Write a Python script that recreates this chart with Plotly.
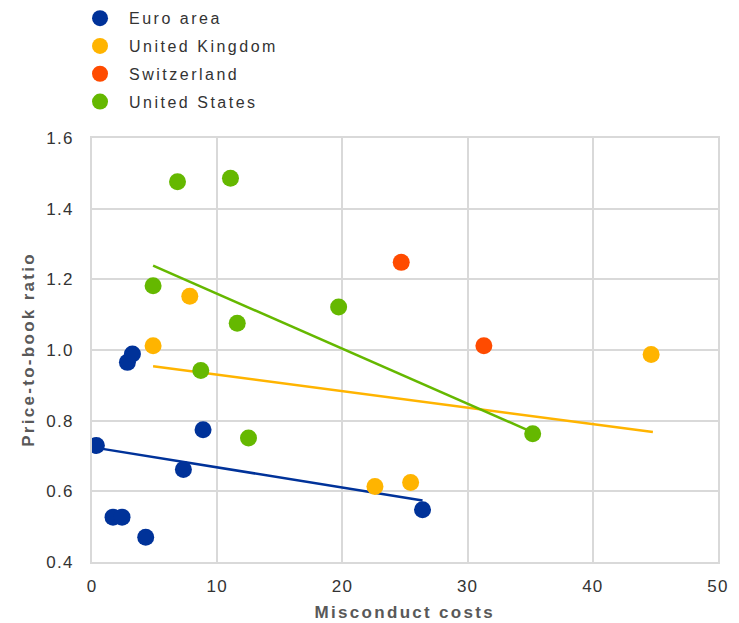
import plotly.graph_objects as go

# Scatter data (misconduct costs, price-to-book ratio)
euro_x = [0.35, 1.68, 2.4, 4.29, 7.3, 8.87, 2.83, 3.23, 26.4]
euro_y = [0.730, 0.527, 0.527, 0.470, 0.662, 0.774, 0.965, 0.989, 0.548]

uk_x = [4.88, 7.81, 22.6, 25.45, 44.66]
uk_y = [1.012, 1.152, 0.614, 0.625, 0.987]

ch_x = [24.7, 31.3]
ch_y = [1.248, 1.012]

us_x = [6.83, 11.06, 4.88, 11.6, 19.7, 8.69, 12.5, 35.2]
us_y = [1.476, 1.486, 1.182, 1.076, 1.122, 0.942, 0.751, 0.763]

# Trend line end points
euro_trend_x = [0.35, 26.4]
euro_trend_y = [0.723, 0.574]
uk_trend_x = [4.88, 44.8]
uk_trend_y = [0.954, 0.768]
us_trend_x = [4.88, 35.2]
us_trend_y = [1.239, 0.767]

x_ticks = [0, 10, 20, 30, 40, 50]
y_ticks = [0.4, 0.6, 0.8, 1.0, 1.2, 1.4, 1.6]
y_tick_labels = ["0.4", "0.6", "0.8", "1.0", "1.2", "1.4", "1.6"]

x_title = "Misconduct costs"
y_title = "Price-to-book ratio"

BLUE = "#003299"
ORANGE = "#FFB400"
RED = "#FF4B00"
GREEN = "#65B800"

fig = go.Figure()

# trend lines (drawn underneath markers)
for tx, ty, col in [(euro_trend_x, euro_trend_y, BLUE),
                    (uk_trend_x, uk_trend_y, ORANGE),
                    (us_trend_x, us_trend_y, GREEN)]:
    fig.add_trace(go.Scatter(x=tx, y=ty, mode="lines",
                             line=dict(color=col, width=2.5),
                             showlegend=False, hoverinfo="skip"))

for name, xs, ys, col in [("Euro area", euro_x, euro_y, BLUE),
                          ("United Kingdom", uk_x, uk_y, ORANGE),
                          ("Switzerland", ch_x, ch_y, RED),
                          ("United States", us_x, us_y, GREEN)]:
    fig.add_trace(go.Scatter(x=xs, y=ys, mode="markers", name=name,
                             legendgroup=name,
                             marker=dict(color=col, size=17, line=dict(width=0))))

title_font = dict(family="Liberation Sans, Arial", size=17, color="#595959")

fig.update_layout(
    width=739, height=623,
    margin=dict(l=92, r=21, t=138, b=61, autoexpand=False),
    paper_bgcolor="white", plot_bgcolor="white",
    font=dict(family="Liberation Sans, Arial, sans-serif", size=16, color="#333333"),
    showlegend=True,
    legend=dict(x=0.0961, xref="container", y=0.998, yref="container",
                xanchor="left", yanchor="top", itemwidth=48,
                font=dict(size=16, color="#333333"),
                traceorder="grouped", tracegroupgap=4,
                bgcolor="rgba(0,0,0,0)"),
    xaxis=dict(range=[0, 50], tickvals=x_ticks, showgrid=True,
               gridcolor="#D9D9D9", gridwidth=1.5,
               showline=True, linecolor="#D9D9D9", linewidth=2, mirror=True,
               zeroline=False, ticks="", ticklabelstandoff=8, automargin=False,
               tickfont=dict(size=17, color="#333333")),
    yaxis=dict(range=[0.4, 1.6], tickvals=y_ticks, ticktext=y_tick_labels,
               showgrid=True, gridcolor="#D9D9D9", gridwidth=1.5,
               showline=True, linecolor="#D9D9D9", linewidth=2, mirror=True,
               zeroline=False, ticks="", ticklabelstandoff=13, automargin=False,
               tickfont=dict(size=17, color="#333333")),
    annotations=[
        dict(text="<b>" + x_title + "</b>", xref="paper", yref="paper",
             x=0.5, y=0, xanchor="center", yanchor="middle", yshift=-50,
             showarrow=False, font=title_font),
        dict(text="<b>" + y_title + "</b>", xref="paper", yref="paper",
             x=0, y=0.5, xanchor="center", yanchor="middle", xshift=-64,
             textangle=-90, showarrow=False, font=title_font),
    ],
)

post_js = """
document.body.style.margin = '0';
document.querySelectorAll('.legendtext').forEach(function(e){e.style.letterSpacing='2.5px';});
document.querySelectorAll('.annotation-text').forEach(function(e){e.style.letterSpacing='2.3px';});
document.querySelectorAll('.xtick text, .ytick text').forEach(function(e){e.style.letterSpacing='1.2px';});
document.querySelectorAll('.legend [clip-path], .annotation [clip-path]').forEach(function(e){e.removeAttribute('clip-path');});
"""

fig.write_html("out.html", post_script=post_js, config={"displayModeBar": False})
